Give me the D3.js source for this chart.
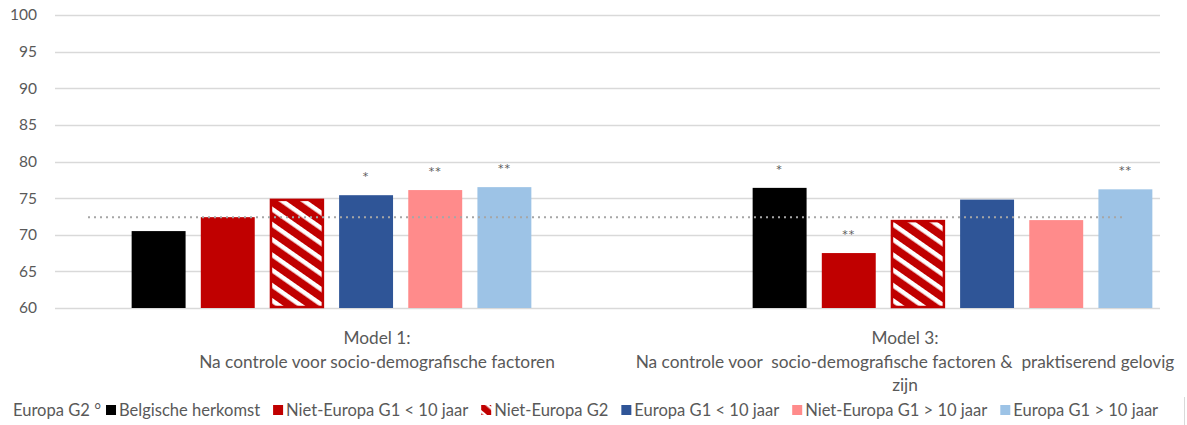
<!DOCTYPE html>
<html>
<head>
<meta charset="utf-8">
<script src="https://cdn.jsdelivr.net/npm/d3@7"></script>
<style>
  body { margin: 0; background: #fff; }
  svg text { font-family: Lato, "Open Sans", sans-serif; fill: #595959; white-space: pre; }
</style>
</head>
<body>
<svg id="chart"></svg>
<script>
// chart data
var models = ["Model 1", "Model 3"];
var modelLabels = [
    ["Model 1:", "Na controle voor socio-demografische factoren"],
    ["Model 3:", "Na controle voor  socio-demografische factoren &  praktiserend gelovig", "zijn"]
];
var series = ["Belgische herkomst", "Niet-Europa G1 < 10 jaar", "Niet-Europa G2",
              "Europa G1 < 10 jaar", "Niet-Europa G1 > 10 jaar", "Europa G1 > 10 jaar"];
var model1 = [70.5, 72.4, 74.9, 75.4, 76.1, 76.5];
var model3 = [76.4, 67.5, 72.0, 74.8, 72.0, 76.2];
var sig1 = ["", "", "", "*", "**", "**"];
var sig3 = ["*", "**", "", "", "", "**"];
var reference = 72.4;
var yTicks = [60, 65, 70, 75, 80, 85, 90, 95, 100];
var legendLead = "Europa G2 °";

var colors = ["#000000", "#c00000", "url(#hatch)", "#2f5597", "#ff8b8b", "#9dc3e6"];

var width = 1187;
var height = 425;

var svg = d3.select("svg#chart")
    .attr("width", width)
    .attr("height", height);

var defs = svg.append("defs");
var hatch = defs.append("pattern")
    .attr("id", "hatch")
    .attr("patternUnits", "userSpaceOnUse")
    .attr("width", 12.5)
    .attr("height", 12.5)
    .attr("patternTransform", "rotate(35)");
hatch.append("rect").attr("width", 12.5).attr("height", 12.5).attr("fill", "#c00000");
hatch.append("rect").attr("width", 12.5).attr("height", 4.5).attr("fill", "#fff");

var small = defs.append("pattern")
    .attr("id", "hatchSmall")
    .attr("patternUnits", "userSpaceOnUse")
    .attr("width", 9).attr("height", 9)
    .attr("patternTransform", "rotate(40)");
small.append("rect").attr("width", 9).attr("height", 9).attr("fill", "#c00000");
small.append("rect").attr("width", 9).attr("height", 2.5).attr("fill", "#fff");

var y = d3.scaleLinear().domain([60, 100]).range([308, 15]);
var x0 = d3.scaleBand().domain(models).range([21, 1263]);
var x1 = d3.scaleBand().domain(series).range([0, x0.bandwidth()])
    .paddingInner(0.22).paddingOuter(1.6);
var xLabel = d3.scaleBand().domain(models).range([113, 1169]);

// gridlines
svg.append("g")
    .selectAll("line")
    .data(yTicks)
    .join("line")
    .attr("x1", 55).attr("x2", 1160)
    .attr("y1", function(d){ return Math.round(y(d)) + 0.5; })
    .attr("y2", function(d){ return Math.round(y(d)) + 0.5; })
    .attr("stroke", "#d9d9d9")
    .attr("stroke-width", 1.3);

svg.append("g")
    .selectAll("text")
    .data(yTicks)
    .join("text")
    .attr("x", 37)
    .attr("y", function(d){ return y(d); })
    .attr("dy", "0.35em")
    .attr("text-anchor", "end")
    .style("font-size", "15.5px")
    .text(function(d){ return d; });

var rows = [model1, model3];
var sigs = [sig1, sig3];

var groups = svg.append("g")
    .selectAll("g")
    .data(models)
    .join("g")
    .attr("transform", function(d){ return "translate(" + x0(d) + ",0)"; });

groups.selectAll("rect")
    .data(function(d, i){ return rows[i].map(function(v, j){ return {s: series[j], v: v, c: colors[j]}; }); })
    .join("rect")
    .each(function(d){
        var r = d3.select(this);
        var hatched = d.s === "Niet-Europa G2";
        var inset = hatched ? 1 : 0;
        r.attr("x", x1(d.s) + inset)
         .attr("width", x1.bandwidth() - 2 * inset)
         .attr("y", y(d.v) + inset)
         .attr("height", y(60) - y(d.v) - 2 * inset)
         .attr("fill", d.c)
         .attr("stroke", hatched ? "#c00000" : "none")
         .attr("stroke-width", hatched ? 2.5 : 0);
    });

groups.selectAll("text")
    .data(function(d, i){ return rows[i].map(function(v, j){ return {s: series[j], v: v, t: sigs[i][j]}; }); })
    .join("text")
    .attr("x", function(d){ return x1(d.s) + x1.bandwidth() / 2; })
    .attr("y", function(d){ return y(d.v) - 15; })
    .attr("text-anchor", "middle")
    .style("font-family", "'DejaVu Sans', sans-serif")
    .style("font-size", "11px")
    .style("letter-spacing", "1px")
    .text(function(d){ return d.t; });

// reference line
svg.append("line")
    .attr("x1", 88).attr("x2", 1122)
    .attr("y1", y(reference)).attr("y2", y(reference))
    .attr("stroke", "#a6a6a6")
    .attr("stroke-width", 2)
    .attr("stroke-dasharray", "2,4");

// category labels
models.forEach(function(m, i){
    svg.append("text")
        .attr("x", xLabel(m) + xLabel.bandwidth() / 2)
        .attr("y", 344)
        .attr("text-anchor", "middle")
        .style("font-size", "17.3px")
        .selectAll("tspan")
        .data(modelLabels[i])
        .join("tspan")
        .attr("x", xLabel(m) + xLabel.bandwidth() / 2)
        .attr("dy", function(d, k){ return k === 0 ? 0 : 23.5; })
        .text(function(d){ return d; });
});

// legend
var legend = svg.append("g").attr("transform", "translate(0,410)");
var fs = 15;
var lead = legend.append("text").attr("x", 13).attr("dy", "0.35em").style("font-size", fs + "px").text(legendLead);
var items = legend.selectAll("g.item")
    .data(series)
    .join("g")
    .attr("class", "item");
items.append("rect")
    .attr("width", 10).attr("height", 10).attr("y", -5)
    .attr("fill", function(d, i){ return i === 2 ? "url(#hatchSmall)" : colors[i]; });
items.append("text")
    .attr("x", 13)
    .attr("dy", "0.35em")
    .style("font-size", fs + "px")
    .text(function(d){ return d; });

// fit the legend into 13..1175 like the original
function layout(size) {
    legend.selectAll("text").style("font-size", size + "px");
    var cx = 13 + lead.node().getComputedTextLength() + 5;
    items.each(function(d){
        var g = d3.select(this);
        g.attr("transform", "translate(" + cx + ",0)");
        cx += 13 + g.select("text").node().getComputedTextLength() + 13;
    });
    return cx - 13;
}
var end = layout(fs);
fs = fs * (1175 - 13) / (end - 13);
layout(fs);

svg.append("line")
    .attr("x1", 1184.5).attr("x2", 1184.5)
    .attr("y1", 397).attr("y2", 425)
    .attr("stroke", "#d9d9d9");
</script>
</body>
</html>
